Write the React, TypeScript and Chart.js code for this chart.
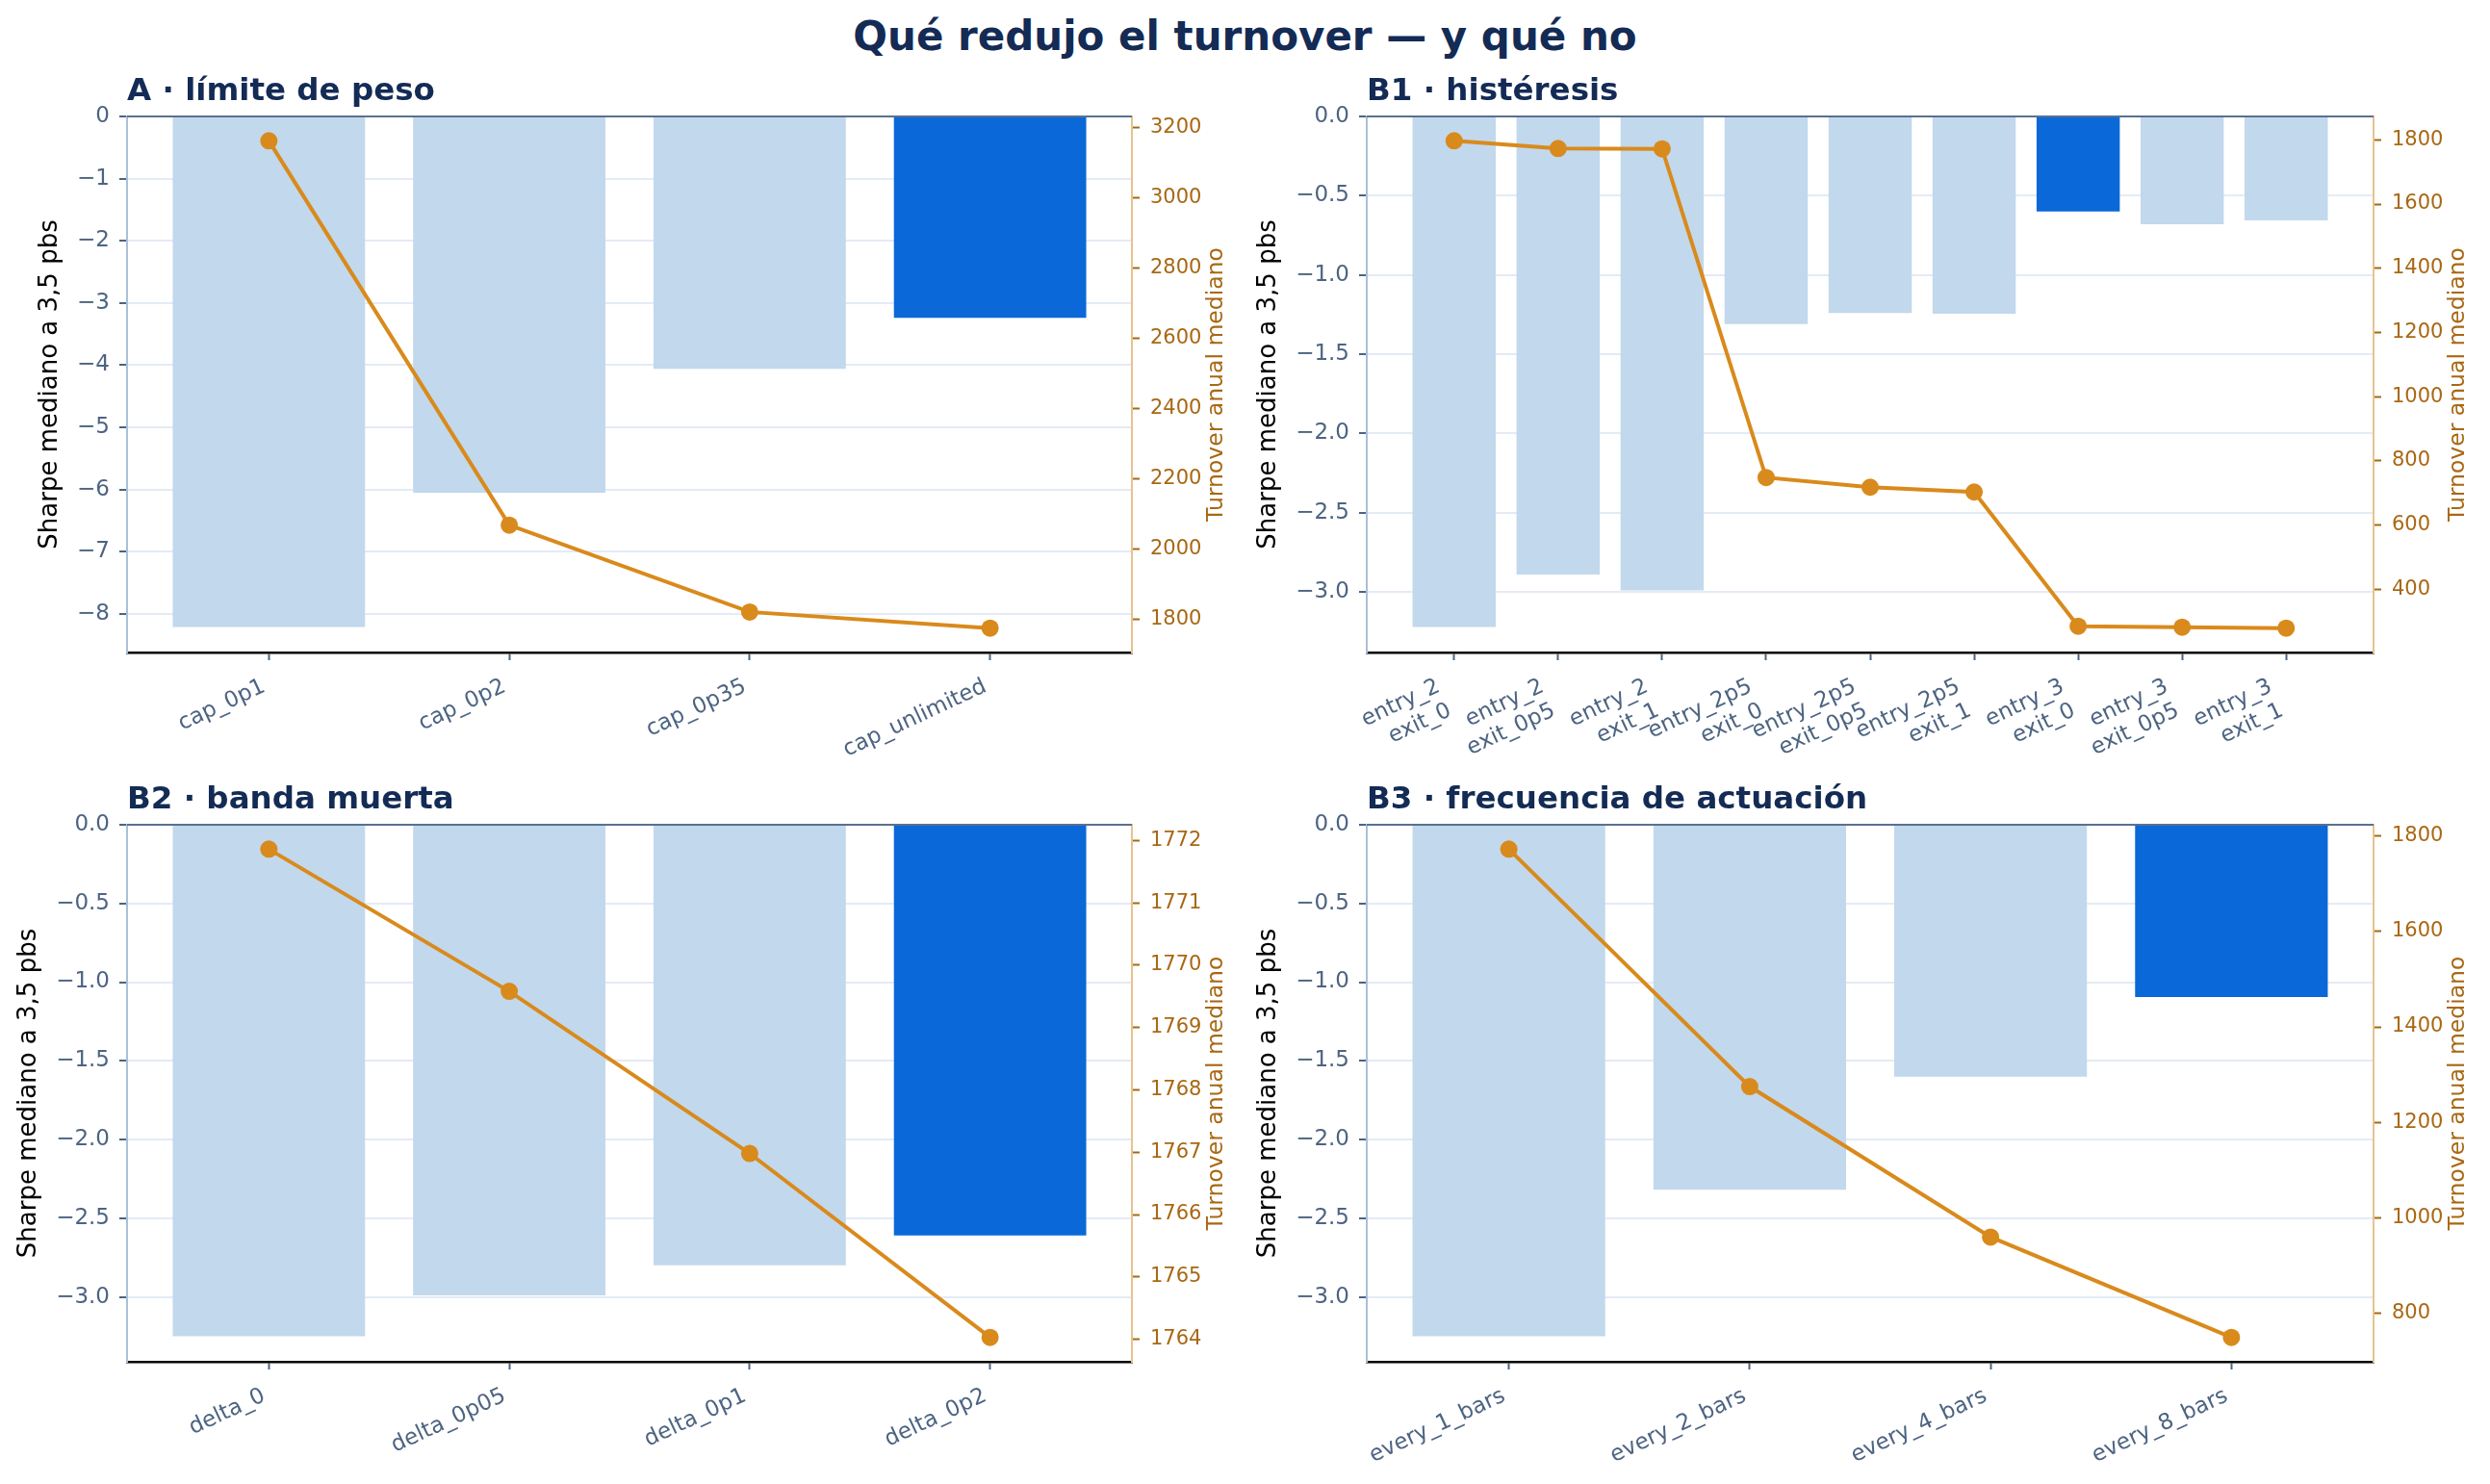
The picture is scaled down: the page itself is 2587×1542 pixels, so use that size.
import { useEffect, useRef } from "react";
import { Chart, registerables } from "chart.js";

Chart.register(...registerables);
Chart.defaults.font.family = "'DejaVu Sans', sans-serif";

// A · límite de peso
const A_CATS = ["cap_0p1", "cap_0p2", "cap_0p35", "cap_unlimited"];
const A_SHARPE = [-8.21, -6.05, -4.06, -3.24];
const A_TURNOVER = [3162, 2069, 1822, 1776];

// B1 · histéresis
const B1_CATS = [
  "entry_2\nexit_0",
  "entry_2\nexit_0p5",
  "entry_2\nexit_1",
  "entry_2p5\nexit_0",
  "entry_2p5\nexit_0p5",
  "entry_2p5\nexit_1",
  "entry_3\nexit_0",
  "entry_3\nexit_0p5",
  "entry_3\nexit_1",
];
const B1_SHARPE = [-3.22, -2.89, -2.99, -1.31, -1.24, -1.245, -0.6, -0.68, -0.655];
const B1_TURNOVER = [1797, 1773, 1772, 748, 718, 703, 285, 282, 279];

// B2 · banda muerta
const B2_CATS = ["delta_0", "delta_0p05", "delta_0p1", "delta_0p2"];
const B2_SHARPE = [-3.25, -2.99, -2.8, -2.61];
const B2_TURNOVER = [1771.86, 1769.58, 1766.98, 1764.03];

// B3 · frecuencia de actuación
const B3_CATS = ["every_1_bars", "every_2_bars", "every_4_bars", "every_8_bars"];
const B3_SHARPE = [-3.25, -2.32, -1.6, -1.094];
const B3_TURNOVER = [1772, 1275, 960, 750];

const NAVY = "#132b55";
const SLATE = "#4d6482";
const BAR_LIGHT = "#c2d8ec";
const BAR_BEST = "#0a68d8";
const ORANGE = "#d98a1c";
const ORANGE_TXT = "#a86814";
const GRID = "#e4ebf5";
const ZERO_LINE = "#5a7090";
const LEFT_SPINE = "#aabfd8";
const RIGHT_SPINE = "#e6c48e";

const TICK_FONT = 23;
const TICK_FONT_R = 21;
const LABEL_FONT = 26;
const LABEL_FONT_R = 23.5;
const PANEL_TITLE_FONT = 32.5;

// ticks on multiples of the step only, never at the padded limits
function stepTicks(step: number) {
  return (s: any) => {
    const out: { value: number }[] = [];
    for (let k = Math.ceil(s.min / step - 1e-9); k * step <= s.max + 1e-9; k++) {
      out.push({ value: Math.round(k * step * 1e6) / 1e6 });
    }
    s.ticks = out;
  };
}

const decorations = {
  id: "decorations",
  afterDatasetDraw(chart: any, args: any) {
    if (args.index !== 0) return;
    const { ctx, chartArea: a } = chart;
    ctx.save();
    ctx.strokeStyle = ZERO_LINE;
    ctx.lineWidth = 2.2;
    ctx.beginPath();
    ctx.moveTo(a.left, a.top);
    ctx.lineTo(a.right, a.top);
    ctx.stroke();
    ctx.restore();
  },
  afterDraw(chart: any, _args: any, opts: any) {
    const { ctx, chartArea: a, scales } = chart;
    const midY = (a.top + a.bottom) / 2;

    ctx.save();
    ctx.font = `bold ${PANEL_TITLE_FONT}px 'DejaVu Sans'`;
    ctx.fillStyle = NAVY;
    ctx.textAlign = "left";
    ctx.textBaseline = "alphabetic";
    ctx.fillText(opts.title, a.left, a.top - 17);
    ctx.restore();

    // left axis title sits beyond the widest tick label
    ctx.save();
    ctx.font = `${TICK_FONT}px 'DejaVu Sans'`;
    const widest = Math.max(...scales.y.ticks.map((t: any) => ctx.measureText(String(t.label)).width));
    ctx.font = `${LABEL_FONT}px 'DejaVu Sans'`;
    ctx.fillStyle = "#000";
    ctx.textAlign = "center";
    ctx.textBaseline = "middle";
    ctx.translate(a.left - (18 + widest + 28), midY);
    ctx.rotate(-Math.PI / 2);
    ctx.fillText(opts.yTitle, 0, 0);
    ctx.restore();

    ctx.save();
    ctx.font = `${LABEL_FONT_R}px 'DejaVu Sans'`;
    ctx.fillStyle = ORANGE_TXT;
    ctx.textAlign = "center";
    ctx.textBaseline = "middle";
    ctx.translate(a.right + 88, midY);
    ctx.rotate(-Math.PI / 2);
    ctx.fillText(opts.y1Title, 0, 0);
    ctx.restore();
  },
};

interface PanelProps {
  title: string;
  cats: string[];
  sharpe: number[];
  turnover: number[];
  sharpeStep: number;
  sharpeDecimals: number;
  turnoverStep: number;
  left: number;
  top: number;
  width: number;
  height: number;
  padLeft: number;
  padRight: number;
  padTop: number;
  padBottom: number;
}

function Panel(p: PanelProps) {
  const canvasRef = useRef<HTMLCanvasElement>(null);

  useEffect(() => {
    if (!canvasRef.current) return;
    const n = p.cats.length;
    const best = p.sharpe.indexOf(Math.max(...p.sharpe));
    const xMargin = 0.05 * (n - 0.2);
    const sMin = Math.min(...p.sharpe);
    const tMin = Math.min(...p.turnover);
    const tMax = Math.max(...p.turnover);
    const tPad = 0.05 * (tMax - tMin);
    const multiLine = p.cats.some((c) => c.includes("\n"));

    const chart = new Chart(canvasRef.current, {
      type: "bar",
      data: {
        datasets: [
          {
            type: "bar",
            data: p.sharpe.map((v, i) => ({ x: i, y: v })),
            backgroundColor: p.sharpe.map((_, i) => (i === best ? BAR_BEST : BAR_LIGHT)),
            barPercentage: 0.8,
            categoryPercentage: 1,
            yAxisID: "y",
            order: 2,
          },
          {
            type: "line",
            data: p.turnover.map((v, i) => ({ x: i, y: v })),
            borderColor: ORANGE,
            backgroundColor: ORANGE,
            borderWidth: 4,
            pointRadius: 9,
            pointBorderWidth: 0,
            pointBackgroundColor: ORANGE,
            tension: 0,
            yAxisID: "y1",
            order: 1,
          },
        ],
      } as any,
      options: {
        responsive: false,
        animation: false,
        layout: { padding: { top: p.padTop, left: 0, right: 0, bottom: 0 } },
        plugins: {
          legend: { display: false },
          tooltip: { enabled: false },
          decorations: {
            title: p.title,
            yTitle: "Sharpe mediano a 3,5 pbs",
            y1Title: "Turnover anual mediano",
          },
        } as any,
        scales: {
          x: {
            type: "linear",
            bounds: "data",
            offset: false,
            min: -0.4 - xMargin,
            max: n - 1 + 0.4 + xMargin,
            afterBuildTicks: (s: any) => {
              s.ticks = p.cats.map((_, i) => ({ value: i }));
            },
            afterFit: (s: any) => {
              s.height = p.padBottom;
            },
            ticks: {
              autoSkip: false,
              minRotation: 25,
              maxRotation: 25,
              padding: 14,
              labelOffset: multiLine ? -16 : -5,
              color: SLATE,
              font: { size: TICK_FONT },
              callback: (v: any) => {
                const c = p.cats[Math.round(Number(v))];
                return c ? c.split("\n") : "";
              },
            },
            grid: { drawOnChartArea: false, offset: false, tickColor: SLATE, tickLength: 8, tickWidth: 2 },
            border: { color: "#000", width: 2.6 },
          },
          y: {
            position: "left",
            bounds: "data",
            min: sMin * 1.05,
            max: 0,
            afterBuildTicks: stepTicks(p.sharpeStep),
            afterFit: (s: any) => {
              s.width = p.padLeft;
            },
            ticks: {
              padding: 10,
              color: SLATE,
              font: { size: TICK_FONT },
              callback: (v: any) => Number(v).toFixed(p.sharpeDecimals).replace("-", "\u2212"),
            },
            grid: {
              color: (c: any) => (c.tick && c.tick.value === 0 ? "rgba(0,0,0,0)" : GRID),
              lineWidth: 2,
              tickColor: SLATE,
              tickLength: 8,
              tickWidth: 2,
            },
            border: { color: LEFT_SPINE, width: 2 },
          },
          y1: {
            position: "right",
            bounds: "data",
            min: tMin - tPad,
            max: tMax + tPad,
            afterBuildTicks: stepTicks(p.turnoverStep),
            afterFit: (s: any) => {
              s.width = p.padRight;
            },
            ticks: {
              padding: 11,
              color: ORANGE_TXT,
              font: { size: TICK_FONT_R },
              callback: (v: any) => String(Math.round(Number(v))),
            },
            grid: { drawOnChartArea: false, tickColor: ORANGE_TXT, tickLength: 8, tickWidth: 2 },
            border: { color: RIGHT_SPINE, width: 2 },
          },
        },
      } as any,
      plugins: [decorations as any],
    });
    return () => chart.destroy();
  }, [p]);

  return (
    <canvas
      ref={canvasRef}
      width={p.width}
      height={p.height}
      style={{ position: "absolute", left: p.left, top: p.top, width: p.width, height: p.height }}
    />
  );
}

const COL_L = { left: 0, width: 1293, padLeft: 132, padRight: 117 };
const COL_R = { left: 1293, width: 1294, padLeft: 127, padRight: 121 };
const ROW_T = { top: 56, height: 734, padTop: 65, padBottom: 112 };
const ROW_B = { top: 790, height: 752, padTop: 67, padBottom: 127 };

export default function App() {
  return (
    <div
      style={{
        position: "absolute",
        left: 0,
        top: 0,
        width: 2587,
        height: 1542,
        background: "#fff",
        fontFamily: "'DejaVu Sans', sans-serif",
        overflow: "hidden",
      }}
    >
      <div
        style={{
          position: "absolute",
          left: 0,
          top: 17,
          width: 2587,
          textAlign: "center",
          fontWeight: "bold",
          fontSize: 42,
          lineHeight: "42px",
          color: NAVY,
        }}
      >
        Qué redujo el turnover — y qué no
      </div>
      <Panel
        title="A · límite de peso"
        cats={A_CATS}
        sharpe={A_SHARPE}
        turnover={A_TURNOVER}
        sharpeStep={1}
        sharpeDecimals={0}
        turnoverStep={200}
        {...COL_L}
        {...ROW_T}
      />
      <Panel
        title="B1 · histéresis"
        cats={B1_CATS}
        sharpe={B1_SHARPE}
        turnover={B1_TURNOVER}
        sharpeStep={0.5}
        sharpeDecimals={1}
        turnoverStep={200}
        {...COL_R}
        {...ROW_T}
      />
      <Panel
        title="B2 · banda muerta"
        cats={B2_CATS}
        sharpe={B2_SHARPE}
        turnover={B2_TURNOVER}
        sharpeStep={0.5}
        sharpeDecimals={1}
        turnoverStep={1}
        {...COL_L}
        {...ROW_B}
      />
      <Panel
        title="B3 · frecuencia de actuación"
        cats={B3_CATS}
        sharpe={B3_SHARPE}
        turnover={B3_TURNOVER}
        sharpeStep={0.5}
        sharpeDecimals={1}
        turnoverStep={200}
        {...COL_R}
        {...ROW_B}
      />
    </div>
  );
}
